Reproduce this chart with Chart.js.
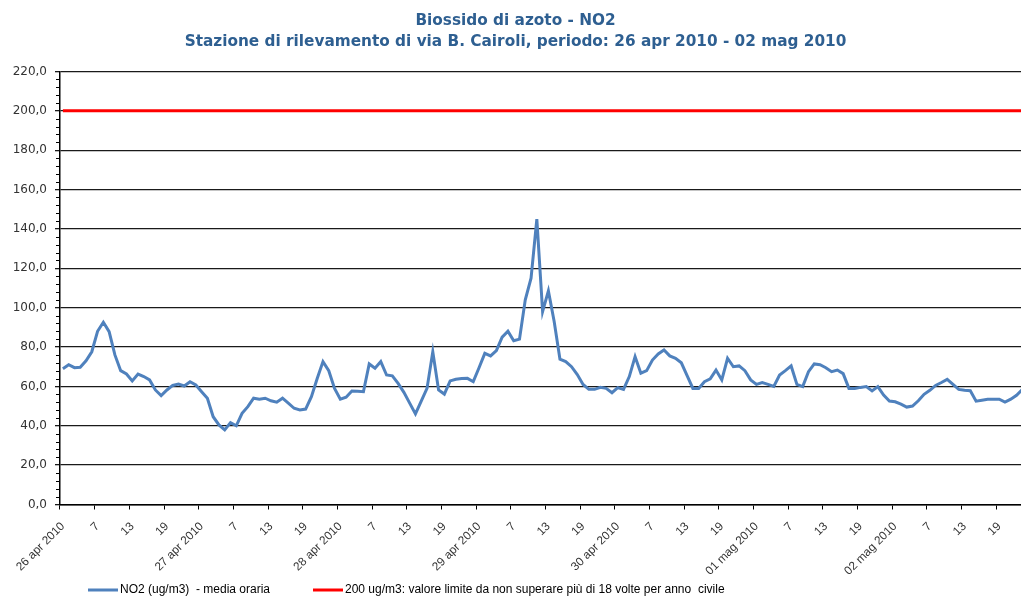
<!DOCTYPE html>
<html>
<head>
<meta charset="utf-8">
<script src="https://cdn.jsdelivr.net/npm/chart.js@4.4.0/dist/chart.umd.min.js"></script>
<style>
  html, body { margin: 0; padding: 0; background: #fff; overflow: hidden; }
  #wrap { width: 1031px; height: 596px; }
</style>
</head>
<body>
<div id="wrap"><canvas id="chart" width="1031" height="596"></canvas></div>
<script>
// Biossido di azoto - NO2, hourly means, via B. Cairoli

const days = ['26 apr 2010', '27 apr 2010', '28 apr 2010', '29 apr 2010', '30 apr 2010', '01 mag 2010', '02 mag 2010'];
const hourTicks = ['7', '13', '19'];

// values, one array per day (hours 1..24)
const no2Apr26 = [69, 71, 69.5, 69.7, 73, 77.6, 88, 92.6, 87.8, 76, 68, 66.3, 62.8, 66.3, 65, 63.3, 58.2, 55.3, 58.2, 60.5, 61.2, 60.2, 62.4, 60.7];
const no2Apr27 = [57.3, 54, 44.6, 40.4, 37.9, 41.6, 40, 46.3, 49.7, 54, 53.5, 54, 52.7, 52, 54, 51.5, 48.9, 48, 48.5, 54.8, 64, 72.6, 68, 59];
const no2Apr28 = [53.5, 54.5, 57.7, 57.5, 57.3, 71.4, 69.2, 72.6, 65.8, 65.4, 61.5, 57, 51.5, 46, 52.5, 59, 77.6, 58.2, 56.1, 62.8, 63.6, 64, 64.1, 62.4];
const no2Apr29 = [69.5, 76.8, 75.5, 78.2, 85, 88, 83.2, 84, 104, 115, 145, 98, 108.5, 93, 73.8, 72.6, 70, 66, 61, 58.5, 58.5, 59.5, 59, 56.8];
const no2Apr30 = [59.4, 58.5, 65, 75.1, 66.7, 68, 73.4, 76.5, 78.5, 75.5, 74.3, 72, 65.5, 59, 59, 62.4, 63.8, 68.3, 63.3, 74.3, 70, 70.4, 68, 63.3];
const no2May01 = [61, 61.9, 61, 60, 65.8, 68, 70.4, 61, 59.9, 67.5, 71.4, 71, 69.5, 67.5, 68.3, 66.5, 59, 59, 59.5, 59.9, 57.7, 59.9, 55.6, 52.6];
const no2May02 = [52.2, 51, 49.5, 50, 52.7, 56, 58, 60.5, 62, 63.6, 61, 58.5, 58, 57.8, 52.5, 53, 53.5, 53.5, 53.5, 52, 53.5, 55.5, 58.5, 60];

const limitValue = 200;

const seriesNames = ['NO2 (ug/m3)  - media oraria', '200 ug/m3: valore limite da non superare più di 18 volte per anno  civile'];

// 24 hourly categories per day, labelled at hours 1, 7, 13, 19
const labels = [];
days.forEach(day => {
    for (let h = 1; h <= 24; h++) {
        if (h === 1) labels.push(day);
        else if (hourTicks.includes(String(h))) labels.push(String(h));
        else labels.push('');
    }
});

const no2Values = [].concat(no2Apr26, no2Apr27, no2Apr28, no2Apr29, no2Apr30, no2May01, no2May02);
const limitValues = labels.map(() => limitValue);

const fontAxis = 'DejaVu Sans';
const fontLabel = 'Liberation Sans';

// minor ticks on the value axis, every 4 units
const minorTicks = {
    id: 'minorTicks',
    afterDraw(chart) {
        const y = chart.scales.y;
        const ctx = chart.ctx;
        ctx.save();
        ctx.strokeStyle = '#000';
        ctx.lineWidth = 1;
        ctx.beginPath();
        for (let v = y.min; v <= y.max; v += 4) {
            if (v % 20 === 0) continue;
            const py = Math.round(y.getPixelForValue(v)) + 0.5;
            ctx.moveTo(y.right - 4, py);
            ctx.lineTo(y.right, py);
        }
        ctx.stroke();
        ctx.restore();
    }
};

// legend drawn as short line samples, left aligned like the original
const lineLegend = {
    id: 'lineLegend',
    afterDraw(chart, args, opts) {
        const ctx = chart.ctx;
        ctx.save();
        ctx.font = opts.font;
        ctx.textBaseline = 'middle';
        ctx.fillStyle = '#000';
        chart.data.datasets.forEach((ds, i) => {
            const x = opts.starts[i];
            const y = chart.height - opts.bottom;
            ctx.strokeStyle = ds.borderColor;
            ctx.lineWidth = 3;
            ctx.beginPath();
            ctx.moveTo(x, y);
            ctx.lineTo(x + opts.sample, y);
            ctx.stroke();
            ctx.fillText(ds.label, x + opts.sample + 2, y);
        });
        ctx.restore();
    }
};

const ctx = document.getElementById('chart').getContext('2d');
new Chart(ctx, {
    type: 'line',
    data: {
        labels: labels,
        datasets: [{
            label: seriesNames[0],
            data: no2Values,
            borderColor: '#4F81BD',
            borderWidth: 3,
            pointRadius: 0,
            tension: 0
        }, {
            label: seriesNames[1],
            data: limitValues,
            borderColor: '#FF0000',
            borderWidth: 3,
            pointRadius: 0,
            tension: 0
        }]
    },
    options: {
        responsive: false,
        animation: false,
        layout: { padding: 0 },
        plugins: {
            legend: { display: false },
            tooltip: { enabled: false },
            title: {
                display: true,
                text: ['Biossido di azoto - NO2', 'Stazione di rilevamento di via B. Cairoli, periodo: 26 apr 2010 - 02 mag 2010'],
                color: '#2E5F91',
                font: { family: fontAxis, size: 15.3, weight: 'bold', lineHeight: 1.405 },
                padding: { top: 10.25, bottom: 18.25 }
            },
            lineLegend: { starts: [88, 313], sample: 30, bottom: 6, font: '12px ' + fontLabel }
        },
        scales: {
            x: {
                offset: true,
                afterFit: s => {
                    s.height = 91.5;
                    s.paddingLeft = 0;
                    s.paddingRight = 0;
                },
                border: { display: true, color: '#000', width: 1.5 },
                grid: {
                    offset: true,
                    drawOnChartArea: false,
                    tickLength: 5,
                    tickColor: c => (c.index % 6 === 0 ? '#000' : 'rgba(0,0,0,0)')
                },
                ticks: {
                    autoSkip: false,
                    maxRotation: 45,
                    minRotation: 45,
                    padding: 10,
                    color: '#333',
                    font: { family: fontLabel, size: 11.8 }
                }
            },
            y: {
                min: 0,
                max: 220,
                afterFit: s => { s.width = 60; },
                border: { display: true, color: '#000', width: 1.5 },
                grid: { color: '#1a1a1a', lineWidth: 1.3, tickLength: 5 },
                ticks: {
                    stepSize: 20,
                    padding: 8,
                    color: '#333',
                    font: { family: fontAxis, size: 12 },
                    callback: v => v.toFixed(1).replace('.', ',')
                }
            }
        }
    },
    plugins: [minorTicks, lineLegend]
});
</script>
</body>
</html>
